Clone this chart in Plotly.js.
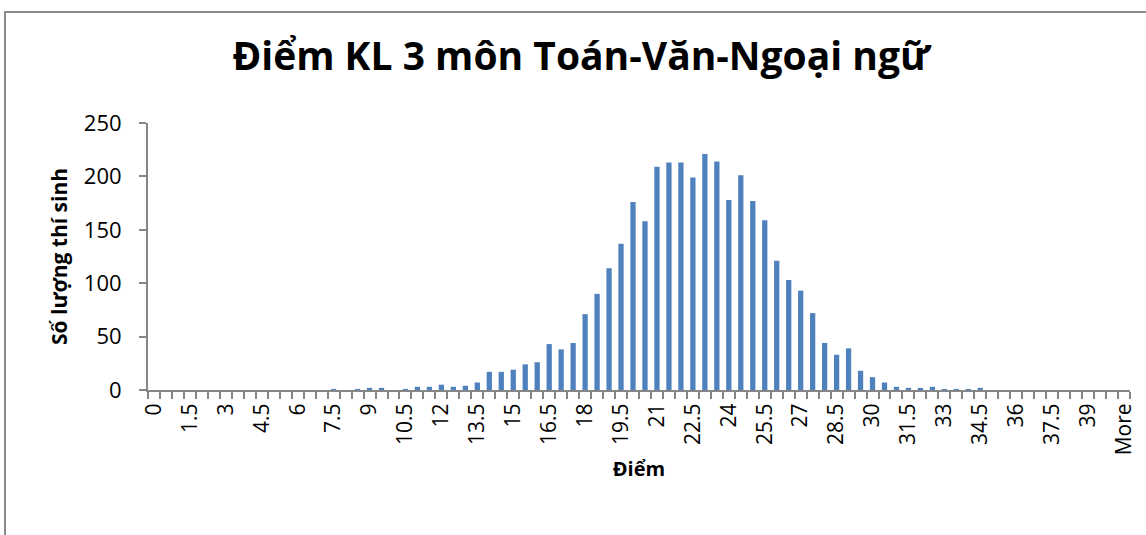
<!DOCTYPE html>
<html>
<head>
<meta charset="utf-8">
<script src="https://cdn.plot.ly/plotly-3.0.1.min.js"></script>
<style>
  html, body { margin: 0; padding: 0; width: 1146px; height: 535px; overflow: hidden; background: #fff; }
  #frame { position: absolute; left: 4px; top: 11px; width: 1142px; height: 524px; border-left: 2px solid #8a8a8a; border-top: 2px solid #8a8a8a; box-sizing: border-box; }
  #chart { position: absolute; left: 0; top: 0; width: 1146px; height: 535px; }
</style>
</head>
<body>
<div id="frame"></div>
<div id="chart"></div>
<script>
const categories = ["0","0.5","1","1.5","2","2.5","3","3.5","4","4.5","5","5.5","6","6.5","7","7.5","8","8.5","9","9.5",
  "10","10.5","11","11.5","12","12.5","13","13.5","14","14.5","15","15.5","16","16.5","17","17.5","18","18.5","19","19.5",
  "20","20.5","21","21.5","22","22.5","23","23.5","24","24.5","25","25.5","26","26.5","27","27.5","28","28.5","29","29.5",
  "30","30.5","31","31.5","32","32.5","33","33.5","34","34.5","35","35.5","36","36.5","37","37.5","38","38.5","39","39.5",
  "40","More"];
const counts = [0,0,0,0,0,0,0,0,0,0,0,0,0,0,0,1,0,1,2,2,
  0,1,3,3,5,3,4,7,17,17,19,24,26,43,38,44,71,90,114,137,
  176,158,209,213,213,199,221,214,178,201,177,159,121,103,93,72,44,33,39,18,
  12,7,3,2,2,3,1,1,1,2,0,0,0,0,0,0,0,0,0,0,
  0,0];
const tickLabels = ["0","1.5","3","4.5","6","7.5","9","10.5","12","13.5","15","16.5","18","19.5","21","22.5","24","25.5",
  "27","28.5","30","31.5","33","34.5","36","37.5","39","More"];
const titleText = "Điểm KL 3 môn Toán-Văn-Ngoại ngữ";
const xTitle = "Điểm";
const yTitle = "Số lượng thí sinh";

const FONT = "Open Sans, Noto Sans, sans-serif";
const axisGray = "#868686";

const trace = {
  type: "bar",
  x: categories,
  y: counts,
  marker: { color: "#4f81bd", line: { width: 0 } },
  hoverinfo: "x+y"
};

const layout = {
  width: 1146, height: 535,
  paper_bgcolor: "rgba(0,0,0,0)",
  plot_bgcolor: "rgba(0,0,0,0)",
  margin: { l: 148, r: 16, t: 123, b: 145, pad: 0 },
  bargap: 0.56,
  showlegend: false,
  font: { family: FONT, color: "#000" },
  title: {
    text: "<b>" + titleText + "</b>",
    font: { family: FONT, size: 39, color: "#000" },
    xref: "container", x: 0.507, xanchor: "center",
    yref: "container", y: 1 - 56/535, yanchor: "middle"
  },
  xaxis: {
    type: "category",
    categoryorder: "array", categoryarray: categories,
    range: [-0.5, categories.length - 0.5],
    tickmode: "array",
    tickvals: categories,
    ticktext: categories.map(c => tickLabels.includes(c) ? c : ""),
    tickson: "boundaries",
    ticks: "outside", ticklen: 7, tickwidth: 2, tickcolor: axisGray,
    tickangle: -90,
    tickfont: { family: FONT, size: 21, color: "#000" },
    ticklabelstandoff: 3,
    showline: true, linecolor: axisGray, linewidth: 2,
    showgrid: false, zeroline: false,
    title: { text: "<b>" + xTitle + "</b>", font: { family: FONT, size: 20, color: "#000" }, standoff: 8 }
  },
  yaxis: {
    range: [0, 250],
    tickmode: "linear", tick0: 0, dtick: 50,
    ticks: "outside", ticklen: 7, tickwidth: 2, tickcolor: axisGray,
    tickfont: { family: FONT, size: 22, color: "#000" },
    ticklabelstandoff: 13,
    showline: true, linecolor: axisGray, linewidth: 2,
    showgrid: false, zeroline: false,
    title: { text: "<b>" + yTitle + "</b>", font: { family: FONT, size: 21, color: "#000" }, standoff: 10 }
  }
};

Plotly.newPlot("chart", [trace], layout, { displayModeBar: false, staticPlot: true });
</script>
</body>
</html>
